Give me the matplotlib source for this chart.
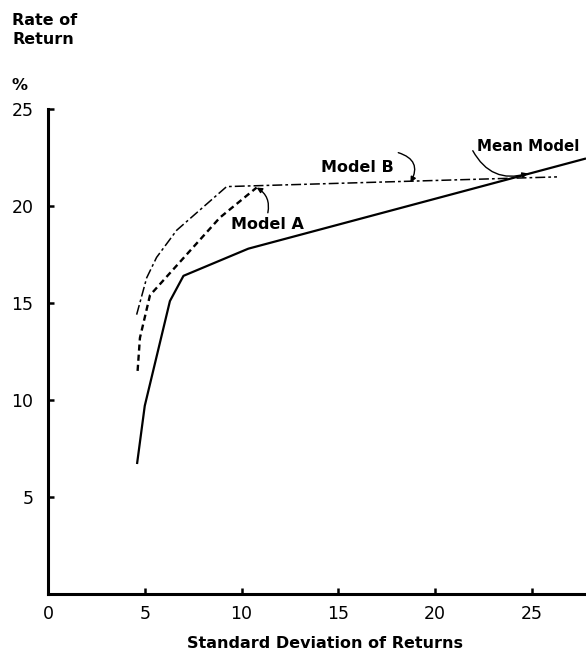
import numpy as np
import matplotlib
matplotlib.use("Agg")
import matplotlib.pyplot as plt

# values
mean_sd = [4.6, 5.0, 6.3, 7.0, 10.35, 27.8]
mean_ret = [6.7, 9.7, 15.1, 16.4, 17.8, 22.45]

a_sd = [4.63, 4.75, 5.27, 8.88, 10.78]
a_ret = [11.5, 13.2, 15.4, 19.4, 20.95]

b_sd = [4.58, 5.10, 5.61, 6.65, 9.23, 26.3]
b_ret = [14.4, 16.3, 17.35, 18.75, 21.0, 21.5]

xticks = [0, 5, 10, 15, 20, 25]
yticks = [5, 10, 15, 20, 25]

W, H = 586, 652
fig = plt.figure(figsize=(W / 100, H / 100), dpi=100)
ax = fig.add_axes([48 / W, 1 - 594 / H, 538 / W, (594 - 109) / H])

ax.plot(mean_sd, mean_ret, color="black", lw=1.6, solid_capstyle="butt")
ax.plot(a_sd, a_ret, color="black", lw=1.7, linestyle=(0, (2.6, 1.7)))
ax.plot(b_sd, b_ret, color="black", lw=1.1, linestyle=(0, (6.5, 2.0, 1.8, 2.0)))

ax.set_xlim(0, 27.8)
ax.set_ylim(0, 25)
for s in ["top", "right"]:
    ax.spines[s].set_visible(False)
for s in ["left", "bottom"]:
    ax.spines[s].set_linewidth(2.2)

ax.set_xticks(xticks)
ax.set_yticks(yticks)
ax.tick_params(direction="in", length=4, width=1.8, labelsize=12.5)
ax.tick_params(axis="y", pad=10.5)
ax.tick_params(axis="x", pad=8)

lab = dict(fontsize=11.5, fontweight="bold", color="black")

ax.text(15.97, 21.96, "Model B", ha="center", va="center", **lab)
ax.text(22.15, 23.05, "Mean Model", ha="left", va="center",
        fontsize=10.8, fontweight="bold", color="black")
ax.text(9.45, 19.03, "Model A", ha="left", va="center", **lab)

arr = dict(arrowstyle="-|>", color="black", lw=1.0, mutation_scale=8, shrinkA=0, shrinkB=0)
ax.annotate("", xy=(18.73, 21.21), xytext=(18.1, 22.75),
            arrowprops=dict(connectionstyle="arc3,rad=-0.6", **arr))
ax.annotate("", xy=(24.8, 21.68), xytext=(21.95, 22.85),
            arrowprops=dict(connectionstyle="arc3,rad=0.4", **arr))
ax.annotate("", xy=(10.78, 20.95), xytext=(11.36, 19.65),
            arrowprops=dict(connectionstyle="arc3,rad=0.35", **arr))

fig.text(12 / W, 1 - 20.5 / H, "Rate of", ha="left", va="center", **lab)
fig.text(12 / W, 1 - 39 / H, "Return", ha="left", va="center", **lab)
fig.text(12 / W, 1 - 85 / H, "%", ha="left", va="center", **lab)
fig.text(325 / W, 1 - 643 / H, "Standard Deviation of Returns", ha="center", va="center", **lab)

fig.savefig("out.png", dpi=100)
